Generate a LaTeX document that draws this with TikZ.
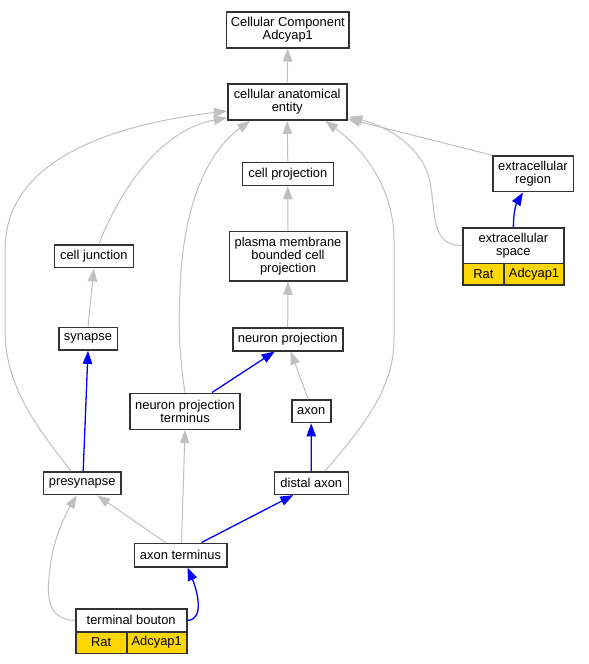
\documentclass[tikz,border=0pt]{standalone}
\usepackage{fontspec}
\setmainfont{Liberation Sans}
\usetikzlibrary{arrows.meta}
\definecolor{edgegray}{RGB}{192,192,192}
\definecolor{boxline}{RGB}{50,50,50}
\definecolor{goldfill}{RGB}{255,215,0}
\begin{document}
\begin{tikzpicture}[x=1pt,y=-1pt,
 box/.style={draw=boxline, line width=1.6pt, fill=white, inner sep=0pt, align=center, font=\fontsize{12.9}{13.3}\selectfont},
 ycell/.style={box, fill=goldfill},
 gedge/.style={draw=edgegray, line width=1pt, -{Triangle[length=13pt,width=9.5pt]}},
 bedge/.style={draw=blue, line width=1.3pt, -{Triangle[length=13pt,width=9.5pt]}},
]
\useasboundingbox (0,0) rectangle (589,664);
% nodes
\node[box, minimum width=122.3pt, minimum height=36pt] (cc) at (287.8,29.7) {Cellular Component\\Adcyap1};
\node[box, minimum width=119pt, minimum height=36pt] (cae) at (287.2,102) {cellular anatomical\\entity};
\node[box, minimum width=91pt, minimum height=23pt] (cp) at (287.8,174) {cell projection};
\node[box, minimum width=80.6pt, minimum height=35.7pt] (er) at (533,173.8) {extracellular\\region};
\node[box, minimum width=79pt, minimum height=22.7pt] (cj) at (93.8,256.3) {cell junction};
\node[box, minimum width=117.4pt, minimum height=49.3pt] (pm) at (288,256.3) {plasma membrane\\bounded cell\\projection};
\node[box, minimum width=101.3pt, minimum height=35.6pt] (es) at (513.35,245.5) {extracellular\\space};
\node[ycell, minimum width=41.3pt, minimum height=21.7pt] (esr) at (483.35,274.15) {Rat};
\node[ycell, minimum width=60pt, minimum height=21.7pt] (esa) at (534,274.15) {Adcyap1};
\node[box, minimum width=58.6pt, minimum height=22.5pt] (syn) at (88,338.8) {synapse};
\node[box, minimum width=110pt, minimum height=23pt] (np) at (287.7,339.2) {neuron projection};
\node[box, minimum width=110pt, minimum height=36pt] (npt) at (185,411.3) {neuron projection\\terminus};
\node[box, minimum width=39pt, minimum height=22.7pt] (axon) at (311.2,411.3) {axon};
\node[box, minimum width=77.7pt, minimum height=22.5pt] (pre) at (82.2,483.3) {presynapse};
\node[box, minimum width=74pt, minimum height=22.6pt] (da) at (311.3,483) {distal axon};
\node[box, minimum width=92.4pt, minimum height=23.4pt] (at) at (180.5,555) {axon terminus};
\node[box, minimum width=111pt, minimum height=22.7pt] (tb) at (131.2,620.3) {terminal bouton};
\node[ycell, minimum width=51pt, minimum height=21.6pt] (tbr) at (101.2,642.5) {Rat};
\node[ycell, minimum width=60pt, minimum height=21.6pt] (tba) at (156.7,642.5) {Adcyap1};
% edges
\draw[gedge] (cae.north) -- (cc.south);
\draw[gedge] (cp.north) -- (cae.south);
\draw[gedge] (pm.north) -- (cp.south);
\draw[gedge] (np.north) -- (pm.south);
\draw[gedge] (er.north west) -- ([yshift=2pt]cae.south east);
\draw[gedge] (es.west) .. controls (430,245.5) and (436,212) .. (430,182) .. controls (424,150) and (392,128) .. ([xshift=2pt,yshift=4pt]cae.south east);
\draw[bedge] (es.north) .. controls (513.3,214) and (516,204) .. ([xshift=-10pt]er.south);
\draw[gedge] ([xshift=5pt]cj.north) .. controls (120,190) and (160,130) .. ([yshift=3pt]cae.south west);
\draw[gedge] (syn.north) -- (cj.south);
\draw[bedge] ([xshift=1pt]pre.north) -- (syn.south);
\draw[gedge] ([xshift=-11pt]pre.north) .. controls (35,425) and (5,385) .. (5,330) -- (5,250) .. controls (5,160) and (110,125) .. ([yshift=-9pt]cae.west);
\draw[gedge] (npt.north) .. controls (180,360) and (178,330) .. (180,290) .. controls (183,200) and (210,150) .. ([xshift=-37pt]cae.south);
\draw[bedge] ([xshift=27pt]npt.north) -- ([xshift=-13pt]np.south);
\draw[gedge] ([xshift=-3pt]axon.north) -- ([xshift=3pt]np.south);
\draw[bedge] (da.north) -- (axon.south);
\draw[gedge] ([xshift=14pt]da.north) .. controls (360,430) and (394,390) .. (394,340) -- (394,240) .. controls (394,190) and (365,150) .. ([xshift=38pt]cae.south);
\draw[gedge] ([xshift=-15pt]at.north) -- ([xshift=15pt]pre.south);
\draw[gedge] ([xshift=1pt]at.north) -- (npt.south);
\draw[bedge] ([xshift=21pt]at.north) -- ([xshift=-18pt]da.south);
\draw[gedge] (tb.west) .. controls (45,620) and (47,592) .. (50,568) .. controls (53,540) and (65,515) .. ([xshift=-5.5pt]pre.south);
\draw[bedge] (tb.east) .. controls (205,620) and (197,590) .. ([xshift=7pt]at.south);
\end{tikzpicture}
\end{document}
